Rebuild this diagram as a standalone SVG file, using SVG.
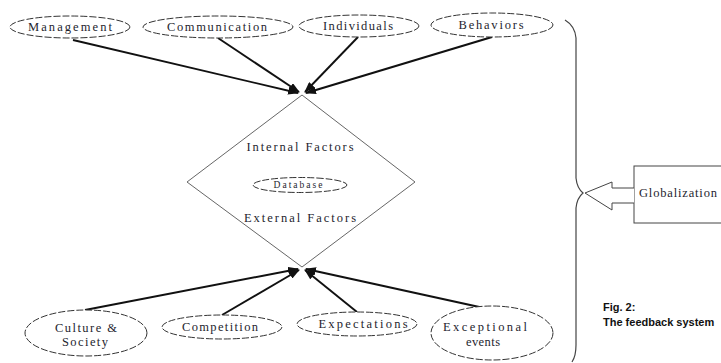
<svg xmlns="http://www.w3.org/2000/svg" width="721" height="363" viewBox="0 0 721 363">
<defs>
<style>
.ell{fill:#fff;stroke:#333;stroke-width:1;stroke-dasharray:7 2}
.t{font-family:"Liberation Serif","Times New Roman",serif;font-size:12.5px;fill:#1e1e2e;text-anchor:middle;dominant-baseline:central}
.con{stroke:#111;stroke-width:1.9;fill:none}
.thin{stroke:#555;stroke-width:0.9;fill:none}
.cap{font-family:"Liberation Sans",Arial,sans-serif;font-weight:bold;font-size:11px;fill:#111}
</style>
<marker id="ah" markerUnits="userSpaceOnUse" markerWidth="11" markerHeight="8" refX="10" refY="4" orient="auto">
<path d="M0,0 L11,4 L0,8 z" fill="#111"/>
</marker>
</defs>
<rect width="721" height="363" fill="#fff"/>

<g id="diamond">
<polygon class="thin" points="302,95 415,182 302,267 187,182"/>
<text class="t" x="300" y="147" textLength="107" lengthAdjust="spacing">Internal Factors</text>
<text class="t" x="300" y="218" textLength="112" lengthAdjust="spacing">External Factors</text>
</g>
<g id="database">
<ellipse class="ell" cx="300" cy="185" rx="47" ry="7.5"/>
<text class="t" x="298" y="185" style="font-size:9.5px" textLength="49" lengthAdjust="spacing">Database</text>
</g>

<g id="connectors">
<line class="con" x1="73" y1="40" x2="298" y2="93" marker-end="url(#ah)"/>
<line class="con" x1="218" y1="38" x2="299" y2="92" marker-end="url(#ah)"/>
<line class="con" x1="358" y1="37" x2="305" y2="92" marker-end="url(#ah)"/>
<line class="con" x1="492" y1="37" x2="306" y2="93" marker-end="url(#ah)" style="stroke-width:2.3"/>
<line class="con" x1="85" y1="310" x2="298" y2="269" marker-end="url(#ah)"/>
<line class="con" x1="222" y1="315" x2="299" y2="270" marker-end="url(#ah)"/>
<line class="con" x1="357" y1="312" x2="305" y2="270" marker-end="url(#ah)"/>
<line class="con" x1="493" y1="310" x2="306" y2="269" marker-end="url(#ah)" style="stroke-width:2.3"/>
</g>

<g id="management">
<ellipse class="ell" cx="70" cy="27" rx="60" ry="11"/>
<text class="t" x="70" y="27" textLength="84" lengthAdjust="spacing">Management</text>
</g>
<g id="communication">
<ellipse class="ell" cx="218" cy="27" rx="75" ry="11"/>
<text class="t" x="217" y="27" textLength="100" lengthAdjust="spacing">Communication</text>
</g>
<g id="individuals">
<ellipse class="ell" cx="359" cy="26" rx="60" ry="11"/>
<text class="t" x="358" y="26" textLength="70" lengthAdjust="spacing">Individuals</text>
</g>
<g id="behaviors">
<ellipse class="ell" cx="492" cy="25" rx="61" ry="12"/>
<text class="t" x="491" y="25" textLength="65" lengthAdjust="spacing">Behaviors</text>
</g>

<g id="culture">
<ellipse class="ell" cx="86" cy="333" rx="61" ry="23"/>
<text class="t" x="86" y="328" textLength="62" lengthAdjust="spacing">Culture &amp;</text>
<text class="t" x="85" y="342" textLength="46" lengthAdjust="spacing">Society</text>
</g>
<g id="competition">
<ellipse class="ell" cx="222" cy="327" rx="60" ry="12"/>
<text class="t" x="220" y="327" textLength="76" lengthAdjust="spacing">Competition</text>
</g>
<g id="expectations">
<ellipse class="ell" cx="357" cy="324" rx="60" ry="12"/>
<text class="t" x="363" y="324" textLength="89" lengthAdjust="spacing">Expectations</text>
</g>
<g id="exceptional">
<ellipse class="ell" cx="492" cy="333" rx="61" ry="27"/>
<text class="t" x="485" y="327" textLength="84" lengthAdjust="spacing">Exceptional</text>
<text class="t" x="483" y="342" textLength="34" lengthAdjust="spacing">events</text>
</g>

<g id="brace">
<path class="thin" d="M565,20 Q575,26 576,38 L576,178 Q577,188 583,193 Q577,198 576,208 L576,345 Q576,356 572,362" style="stroke:#444;stroke-width:1.2"/>
</g>

<g id="globalization">
<rect x="634" y="166" width="100" height="57" fill="#fff" stroke="#444" stroke-width="1"/>
<path d="M634,188 L612,188 L612,182 L585,193 L612,210 L612,203 L634,203" fill="#fff" stroke="#444" stroke-width="1"/>
<text class="t" x="678" y="193" textLength="78" lengthAdjust="spacing">Globalization</text>
</g>

<g id="caption">
<text class="cap" x="603" y="311">Fig. 2:</text>
<text class="cap" x="603" y="326">The feedback system</text>
</g>
</svg>
